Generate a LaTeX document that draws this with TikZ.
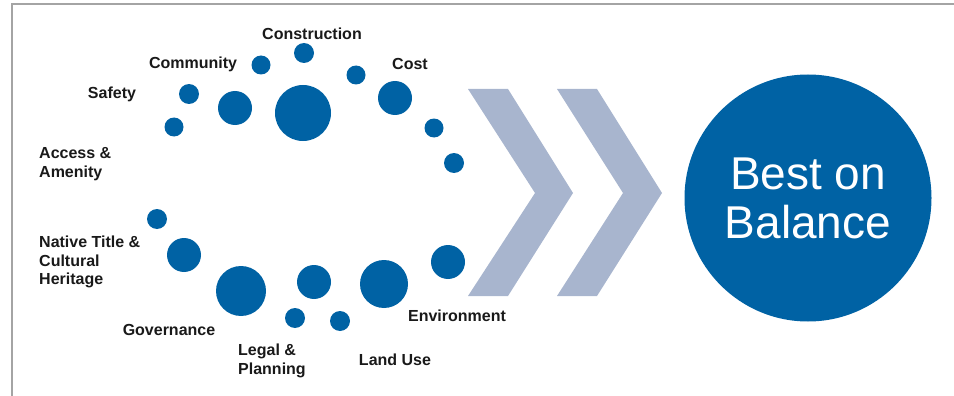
\documentclass[tikz,border=0pt]{standalone}
\usepackage{fontspec}
\setmainfont{Liberation Sans}
\definecolor{dotblue}{HTML}{0062A4}
\definecolor{chevgrey}{HTML}{A8B5CE}
\definecolor{framegrey}{HTML}{A4A4A4}

\begin{document}
\begin{tikzpicture}[x=1pt, y=-1pt,
  dot/.style={circle, fill=dotblue, inner sep=0pt, minimum size=#1},
  lbl/.style={font=\bfseries\fontsize{16}{18.5}\selectfont, align=left, inner sep=0pt, text=black!90},
  chevron/.style={fill=chevgrey}]
\useasboundingbox (0,0) rectangle (954,396);
\draw[framegrey, line width=1.6pt] (12,396) -- (12,4) -- (954,4);

% upper arc of dots
\node[dot=19pt] (d1) at (174,127) {};
\node[dot=20pt] (d2) at (189,94) {};
\node[dot=34pt] (d3) at (235,108) {};
\node[dot=19pt] (d4) at (261,65) {};
\node[dot=20pt] (d5) at (304,53) {};
\node[dot=56pt] (d6) at (303,113) {};
\node[dot=19pt] (d7) at (356,75) {};
\node[dot=34pt] (d8) at (395,98) {};
\node[dot=19pt] (d9) at (434,128) {};
\node[dot=20pt] (d10) at (454,163) {};
% lower arc of dots
\node[dot=20pt] (d11) at (157,219) {};
\node[dot=34pt] (d12) at (184,255) {};
\node[dot=50pt] (d13) at (241,291) {};
\node[dot=34pt] (d14) at (314,282) {};
\node[dot=20pt] (d15) at (295,318) {};
\node[dot=20pt] (d16) at (340,321) {};
\node[dot=48pt] (d17) at (384,284) {};
\node[dot=34pt] (d18) at (448,262) {};

\node[lbl] (construction) at (312,34) {Construction};
\node[lbl] (community) at (193,64) {Community};
\node[lbl] (cost) at (410,64) {Cost};
\node[lbl] (safety) at (112,94) {Safety};
\node[lbl, anchor=west] (access) at (39,164) {Access \&\\Amenity};
\node[lbl, anchor=west] (native) at (39,262) {Native Title \&\\Cultural\\Heritage};
\node[lbl] (governance) at (169,330) {Governance};
\node[lbl, anchor=west] (legal) at (238,361) {Legal \&\\Planning};
\node[lbl] (landuse) at (395,360) {Land Use};
\node[lbl] (environment) at (457,316) {Environment};

% chevrons
\fill[chevron] (468,89) -- (508,89) -- (573,193) -- (508,296) -- (468,296) -- (535,193) -- cycle;
\fill[chevron] (557,89) -- (597,89) -- (662,193) -- (597,296) -- (557,296) -- (623,193) -- cycle;

\node[circle, fill=dotblue, minimum size=247pt, inner sep=0pt, text=white, align=center,
  font=\fontsize{46}{49}\selectfont] (best) at (808,198) {Best on\\Balance};
\end{tikzpicture}
\end{document}
